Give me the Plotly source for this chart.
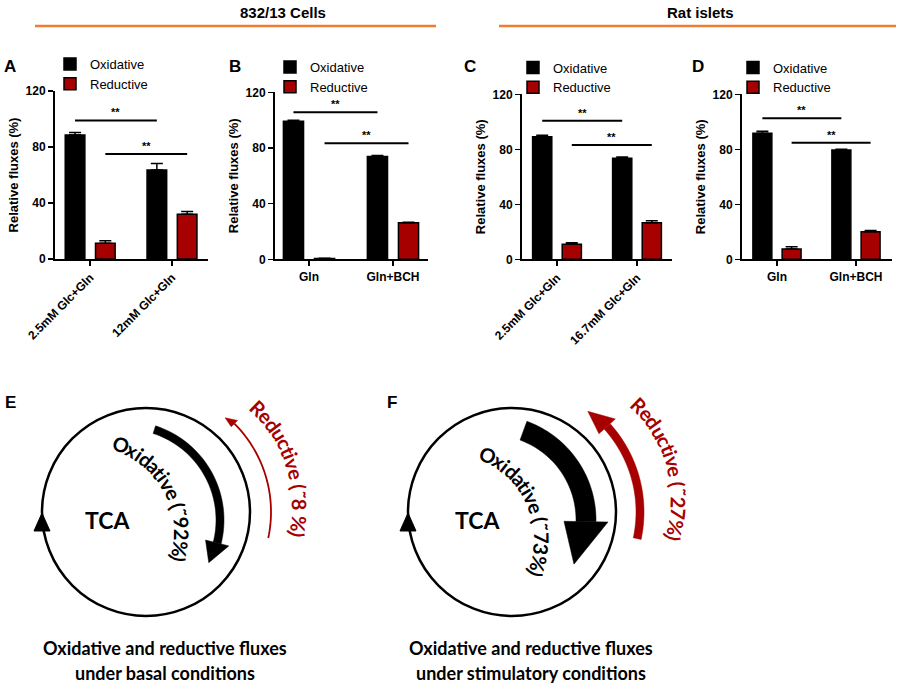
import math
import plotly.graph_objects as go

# ---------------- data ----------------
series_names = ["Oxidative", "Reductive"]

A_categories = ["2.5mM Glc+Gln", "12mM Glc+Gln"]
A_oxidative = [88.5, 63.6]
A_oxidative_err = [1.8, 4.6]
A_reductive = [11.2, 32.0]
A_reductive_err = [1.9, 2.0]
A_sig_levels = [99.0, 75.0]

B_categories = ["Gln", "Gln+BCH"]
B_oxidative = [99.2, 73.8]
B_oxidative_err = [0.8, 0.8]
B_reductive = [0.5, 26.3]
B_reductive_err = [0.2, 0.3]
B_sig_levels = [105.7, 83.4]

C_categories = ["2.5mM Glc+Gln", "16.7mM Glc+Gln"]
C_oxidative = [89.2, 73.5]
C_oxidative_err = [1.0, 0.9]
C_reductive = [10.9, 26.6]
C_reductive_err = [1.2, 1.4]
C_sig_levels = [100.8, 83.1]

D_categories = ["Gln", "Gln+BCH"]
D_oxidative = [91.6, 79.5]
D_oxidative_err = [1.5, 0.6]
D_reductive = [7.5, 20.1]
D_reductive_err = [1.6, 0.8]
D_sig_levels = [102.5, 84.8]

y_ticks = [0, 40, 80, 120]
sig_label = "**"

E_fluxes = {"Oxidative": 92, "Reductive": 8}
F_fluxes = {"Oxidative": 73, "Reductive": 27}
E_labels = ["Oxidative (\u02dc92%)", "Reductive (\u02dc8 %)"]
F_labels = ["Oxidative (\u02dc73%)", "Reductive (\u02dc27%)"]
E_caption = ["Oxidative and reductive fluxes", "under basal conditions"]
F_caption = ["Oxidative and reductive fluxes", "under stimulatory conditions"]
header_titles = ["832/13 Cells", "Rat islets"]

# ---------------- style / layout ----------------
W, H = 897, 686
def px(x): return x / W
def py(y): return 1 - y / H

ARIAL = "Liberation Sans, Arial, sans-serif"
NARROW = "Liberation Sans Narrow, Arial Narrow, Liberation Sans, sans-serif"
CAL = "Lato, Carlito, Calibri, sans-serif"
BLACK = "#000000"
RED = "#A60000"
ORANGE = "#ED7D31"

BAR_W = 0.24
BAR_OFF = 0.185

panels = [
    dict(cats=A_categories, ox=A_oxidative, oxe=A_oxidative_err, rd=A_reductive, rde=A_reductive_err,
         sig=A_sig_levels, xpx=(55, 208), ypx=(259, 91), xr=[-0.43, 1.44], angle=-45,
         leg=(50, 74), letter="A", lpos=(10, 67)),
    dict(cats=B_categories, ox=B_oxidative, oxe=B_oxidative_err, rd=B_reductive, rde=B_reductive_err,
         sig=B_sig_levels, xpx=(275, 428), ypx=(259.3, 92.3), xr=[-0.405, 1.417], angle=0,
         leg=(270, 77), letter="B", lpos=(235, 67)),
    dict(cats=C_categories, ox=C_oxidative, oxe=C_oxidative_err, rd=C_reductive, rde=C_reductive_err,
         sig=C_sig_levels, xpx=(522, 672), ypx=(259.3, 94.3), xr=[-0.4375, 1.4375], angle=-45,
         leg=(513, 77.5), letter="C", lpos=(470, 67)),
    dict(cats=D_categories, ox=D_oxidative, oxe=D_oxidative_err, rd=D_reductive, rde=D_reductive_err,
         sig=D_sig_levels, xpx=(742, 892), ypx=(259.3, 94.3), xr=[-0.443, 1.456], angle=0,
         leg=(733, 77.5), letter="D", lpos=(698, 67)),
]

fig = go.Figure()
shapes = []
annotations = []
layout = dict(template="none", width=W, height=H, margin=dict(l=0, r=0, t=0, b=0, pad=0),
              autosize=False, paper_bgcolor="white", plot_bgcolor="white", barmode="overlay",
              showlegend=True, font=dict(family=ARIAL, color=BLACK))

for i, p in enumerate(panels):
    n = i + 1
    sfx = "" if n == 1 else str(n)
    xa, ya = "x" + sfx, "y" + sfx
    lg = "legend" + sfx
    for name, vals, errs, col, off in [
        (series_names[0], p["ox"], p["oxe"], BLACK, -BAR_OFF),
        (series_names[1], p["rd"], p["rde"], RED, BAR_OFF),
    ]:
        fig.add_trace(go.Bar(
            x=p["cats"], y=vals, name=name, width=BAR_W, offset=off - BAR_W / 2,
            marker=dict(color=col, line=dict(color=BLACK, width=1.5)),
            error_y=dict(type="data", array=errs, arrayminus=[0] * len(errs), symmetric=False,
                         color=BLACK, thickness=1.5, width=6),
            xaxis=xa, yaxis=ya, legend=lg, showlegend=True,
        ))
    layout["xaxis" + sfx] = dict(
        domain=[px(p["xpx"][0]), px(p["xpx"][1])], anchor=ya, type="category", automargin=False,
        range=p["xr"], showline=True, linewidth=2, linecolor=BLACK, ticks="outside",
        ticklen=5, tickwidth=1.5, tickcolor=BLACK, showgrid=False, zeroline=False,
        tickangle=p["angle"], tickfont=dict(family=ARIAL, size=12, color=BLACK, weight="bold"),
    )
    layout["yaxis" + sfx] = dict(
        domain=[py(p["ypx"][0]), py(p["ypx"][1])], anchor=xa, range=[0, 120], automargin=False,
        tickvals=y_ticks, showline=True, linewidth=2, linecolor=BLACK, ticks="outside",
        ticklen=5, tickwidth=1.5, tickcolor=BLACK, showgrid=False, zeroline=False,
        tickfont=dict(family=ARIAL, size=12, color=BLACK, weight="bold"),
        title=dict(text="Relative fluxes (%)", standoff=4,
                   font=dict(family=ARIAL, size=13, color=BLACK, weight="bold")),
    )
    layout[lg] = dict(x=px(p["leg"][0]), y=py(p["leg"][1]), xanchor="left", yanchor="middle",
                      font=dict(family=ARIAL, size=13, color=BLACK), bgcolor="rgba(0,0,0,0)",
                      traceorder="normal", itemwidth=30, tracegroupgap=0, borderwidth=0)
    for k, lvl in enumerate(p["sig"]):
        off = -BAR_OFF if k == 0 else BAR_OFF
        shapes.append(dict(type="line", xref=xa, yref=ya, x0=0 + off, x1=1 + off, y0=lvl, y1=lvl,
                           line=dict(color=BLACK, width=2)))
        annotations.append(dict(xref=xa, yref=ya, x=0.5 + off, y=lvl, text=sig_label, showarrow=False,
                                yanchor="bottom", xanchor="center", yshift=0,
                                font=dict(family=ARIAL, size=11, color=BLACK, weight="bold")))
    annotations.append(dict(xref="paper", yref="paper", x=px(p["lpos"][0]), y=py(p["lpos"][1]),
                            text=p["letter"], showarrow=False, xanchor="center", yanchor="middle",
                            font=dict(family=ARIAL, size=17, color=BLACK, weight="bold")))

# header
for title, cx, (lx0, lx1) in [(header_titles[0], 283, (35, 436)), (header_titles[1], 700, (499, 896))]:
    annotations.append(dict(xref="paper", yref="paper", x=px(cx), y=py(13), text=title, showarrow=False,
                            xanchor="center", yanchor="middle",
                            font=dict(family=NARROW, size=15, color=BLACK, weight="bold")))
    shapes.append(dict(type="line", xref="paper", yref="paper", x0=px(lx0), x1=px(lx1),
                       y0=py(26), y1=py(26), line=dict(color=ORANGE, width=2.5)))

# ---------------- diagrams E / F ----------------
def pt(c, r, deg):
    t = math.radians(deg)
    return (c[0] + r * math.cos(t), c[1] - r * math.sin(t))

def path_from(points, close=True):
    s = "M " + " L ".join(f"{px(x):.5f},{py(y):.5f}" for x, y in points)
    return s + (" Z" if close else "")

def band(c, r, thick, a0, a1, steps=40):
    outer = [pt(c, r + thick / 2, a0 + (a1 - a0) * k / steps) for k in range(steps + 1)]
    inner = [pt(c, r - thick / 2, a1 + (a0 - a1) * k / steps) for k in range(steps + 1)]
    return outer + inner

def head(c, r, hw, a_base, a_tip, r_tip=None):
    r_tip = r if r_tip is None else r_tip
    return [pt(c, r - hw, a_base), pt(c, r + hw, a_base), pt(c, r_tip, a_tip)]

CHAR_W = {'O': .79, 'x': .53, 'i': .25, 'd': .58, 'a': .52, 't': .36, 'v': .53, 'e': .53, ' ': .24,
          '(': .32, ')': .32, '\u02dc': .45, '9': .58, '2': .58, '7': .58, '3': .58, '8': .58, '%': .80,
          'R': .64, 'u': .58, 'c': .46}

def curved_text(text, c, r, mid_deg, size, color):
    widths = [CHAR_W.get(ch, .55) * size for ch in text]
    total = sum(widths)
    start = mid_deg + math.degrees(total / 2 / r)
    s = 0
    for ch, w in zip(text, widths):
        ang = start - math.degrees((s + w / 2) / r)
        s += w
        if ch == " ":
            continue
        x, y = pt(c, r, ang)
        annotations.append(dict(xref="paper", yref="paper", x=px(x), y=py(y), text=ch, showarrow=False,
                                xanchor="center", yanchor="middle", textangle=90 - ang,
                                font=dict(family=CAL, size=size, color=color, weight="bold")))

diagrams = [
    dict(center=(146, 512), fl=E_fluxes, labels=E_labels, caption=E_caption, cap_x=165, letter="E", lx=10,
         ox_c=(125, 520), ox_thick=8, ox_a=(72, -14, -27), ox_hw=12,
         rd_thick=None, rd_a=(-12, 45, 50), rd_hw=4.5, rd_r=125,
         txt_ox=((86.5, 533.5), 95.5, 28), txt_rd=((165, 505), 135, 17.5), tca=(107, 520)),
    dict(center=(512, 512), fl=F_fluxes, labels=F_labels, caption=F_caption, cap_x=531, letter="F", lx=392,
         ox_c=(491, 520), ox_thick=20, ox_a=(70, -1, -28), ox_hw=22,
         rd_thick=8, rd_a=(-12, 42, 53), rd_hw=11, rd_r=128,
         txt_ox=((449, 539), 93, 23), txt_rd=((545, 500), 134, 15), tca=(477, 520)),
]

for d in diagrams:
    c = d["center"]
    R = 104
    shapes.append(dict(type="circle", xref="paper", yref="paper", x0=px(c[0] - R), x1=px(c[0] + R),
                       y0=py(c[1] + R), y1=py(c[1] - R), line=dict(color=BLACK, width=2.5)))
    lx = c[0] - R
    shapes.append(dict(type="path", xref="paper", yref="paper",
                       path=path_from([(lx - 8, 531), (lx + 8, 531), (lx, 513)]),
                       fillcolor=BLACK, line=dict(color=BLACK, width=1)))
    a0, a1, a2 = d["ox_a"]
    shapes.append(dict(type="path", xref="paper", yref="paper",
                       path=path_from(band(d["ox_c"], 95, d["ox_thick"], a0, a1)),
                       fillcolor=BLACK, line=dict(color=BLACK, width=0.5)))
    shapes.append(dict(type="path", xref="paper", yref="paper",
                       path=path_from(head(d["ox_c"], 95, d["ox_hw"], a1, a2, 94)),
                       fillcolor=BLACK, line=dict(color=BLACK, width=0.5)))
    b0, b1, b2 = d["rd_a"]
    if d["rd_thick"] is None:
        pts = [pt(c, d["rd_r"], b0 + (b1 - b0) * k / 40) for k in range(41)]
        shapes.append(dict(type="path", xref="paper", yref="paper", path=path_from(pts, close=False),
                           line=dict(color=RED, width=1.8)))
    else:
        shapes.append(dict(type="path", xref="paper", yref="paper",
                           path=path_from(band(c, d["rd_r"], d["rd_thick"], b0, b1)),
                           fillcolor=RED, line=dict(color=RED, width=0.5)))
    shapes.append(dict(type="path", xref="paper", yref="paper",
                       path=path_from(head(c, d["rd_r"], d["rd_hw"], b1, b2, d["rd_r"] - 2)),
                       fillcolor=RED, line=dict(color=RED, width=0.5)))
    tc, tr, tm = d["txt_ox"]
    curved_text(d["labels"][0], tc, tr, tm, 20, BLACK)
    tc, tr, tm = d["txt_rd"]
    curved_text(d["labels"][1], tc, tr, tm, 20, RED)
    annotations.append(dict(xref="paper", yref="paper", x=px(d["tca"][0]), y=py(d["tca"][1]), text="TCA",
                            showarrow=False, xanchor="center", yanchor="middle",
                            font=dict(family=CAL, size=23, color=BLACK, weight="bold")))
    for j, line in enumerate(d["caption"]):
        annotations.append(dict(xref="paper", yref="paper", x=px(d["cap_x"]), y=py(648 + 25 * j), text=line,
                                showarrow=False, xanchor="center", yanchor="middle",
                                font=dict(family=CAL, size=18, color=BLACK, weight="bold")))
    annotations.append(dict(xref="paper", yref="paper", x=px(d["lx"]), y=py(402), text=d["letter"],
                            showarrow=False, xanchor="center", yanchor="middle",
                            font=dict(family=ARIAL, size=17, color=BLACK, weight="bold")))

layout["shapes"] = shapes
layout["annotations"] = annotations
fig.update_layout(**layout)
fig.write_html("out.html", config={"displayModeBar": False, "staticPlot": True},
               post_script="document.body.style.margin='0';document.body.style.padding='0';"
                           "document.body.style.overflow='hidden';")
